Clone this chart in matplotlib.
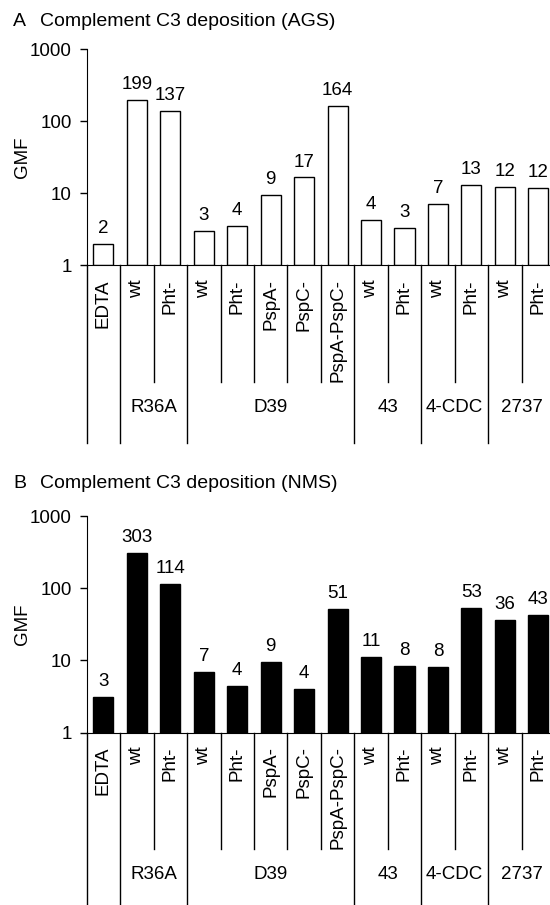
import matplotlib
matplotlib.use("Agg")
import matplotlib.pyplot as plt
import numpy as np

plt.rcParams["font.family"] = ["Liberation Sans", "DejaVu Sans"]

# categories along the x axis
cat_labels = ["EDTA", "wt", "Pht-", "wt", "Pht-", "PspA-", "PspC-", "PspA-PspC-",
              "wt", "Pht-", "wt", "Pht-", "wt", "Pht-"]
groups = ["R36A", "D39", "43", "4-CDC", "2737"]
group_bounds = [(1, 3), (3, 8), (8, 10), (10, 12), (12, 14)]

# panel A: AGS
ags_values = [2.0, 199, 137, 3.05, 3.5, 9.4, 16.6, 164, 4.3, 3.35, 7.2, 13, 12.2, 12]
ags_labels = [2, 199, 137, 3, 4, 9, 17, 164, 4, 3, 7, 13, 12, 12]

# panel B: NMS
nms_values = [3.1, 303, 114, 7.0, 4.4, 9.4, 4.0, 51, 11.3, 8.3, 8.0, 53, 36, 43]
nms_labels = [3, 303, 114, 7, 4, 9, 4, 51, 11, 8, 8, 53, 36, 43]

W, H = 550, 905
FS = 13.5


def draw_panel(ax, values, labels, color, letter, title, title_y):
    n = len(values)
    x = np.arange(n) + 0.5
    vals = np.asarray(values, dtype=float)
    # bars start at the bottom of the log axis (1)
    ax.bar(x, vals - 1, width=0.6, bottom=1, color=color, edgecolor="black", linewidth=1.0)
    ax.set_yscale("log")
    ax.set_ylim(1, 1000)
    ax.set_xlim(0, n)
    ax.set_yticks([1, 10, 100, 1000])
    ax.set_yticklabels(["1", "10", "100", "1000"], fontsize=FS)
    ax.yaxis.set_minor_locator(plt.NullLocator())
    ax.tick_params(axis="y", length=4.7, width=1, pad=6)
    ax.set_xticks(x)
    ax.set_xticklabels(cat_labels, rotation=90, fontsize=FS, va="top", ha="center")
    ax.tick_params(axis="x", length=0, pad=10)
    ax.spines["top"].set_visible(False)
    ax.spines["right"].set_visible(False)

    for xi, v, lab in zip(x, vals, labels):
        ax.annotate(str(lab), (xi, v), xytext=(0, 5), textcoords="offset points",
                    ha="center", va="bottom", fontsize=FS)

    # separator lines below the axis
    trans = ax.get_xaxis_transform()
    long_bounds = {0, 1, n}
    for a, b in group_bounds:
        long_bounds.add(a)
        long_bounds.add(b)
    for k in range(n + 1):
        y_end = -0.82 if k in long_bounds else -0.54
        ax.plot([k, k], [0, y_end], color="black", linewidth=1.0,
                transform=trans, clip_on=False)

    for name, (a, b) in zip(groups, group_bounds):
        ax.text((a + b) / 2, -0.658, name, transform=trans, ha="center", va="center",
                fontsize=FS)

    fig = ax.figure
    fig.text(13 / W, 1 - title_y / H, letter, fontsize=14, va="center", ha="left")
    fig.text(40 / W, 1 - title_y / H, title, fontsize=14, va="center", ha="left")
    pos = ax.get_position()
    fig.text(23 / W, pos.y0 + pos.height / 2, "GMF", rotation=90, fontsize=FS,
             ha="center", va="center")


def main():
    fig = plt.figure(figsize=(W / 100, H / 100), dpi=100)
    left = 86.7 / W
    width = 14 * 33.45 / W
    height = 216.5 / H
    ax1 = fig.add_axes([left, 1 - 265.5 / H, width, height])
    ax2 = fig.add_axes([left, 1 - 732.5 / H, width, height])

    draw_panel(ax1, ags_values, ags_labels, "white", "A",
               "Complement C3 deposition (AGS)", 21)
    draw_panel(ax2, nms_values, nms_labels, "black", "B",
               "Complement C3 deposition (NMS)", 483)

    fig.savefig("out.png", dpi=100)


if __name__ == "__main__":
    main()
